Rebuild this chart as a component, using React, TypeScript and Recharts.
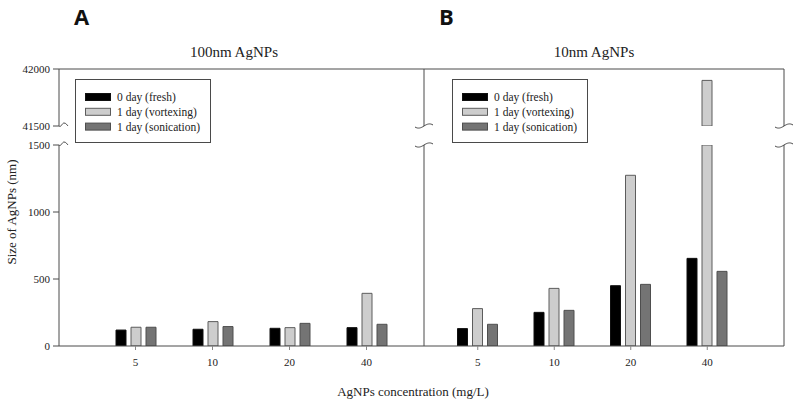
import { BarChart, Bar, XAxis, YAxis, Legend } from "recharts";

const concentrations = ["5", "10", "20", "40"];

// 100nm AgNPs (panel A)
const fresh100 = [119, 125, 132, 137];
const vortex100 = [140, 182, 137, 393];
const sonic100 = [140, 145, 169, 162];

// 10nm AgNPs (panel B)
const fresh10 = [130, 251, 450, 654];
const vortex10 = [279, 430, 1274, 41900];
const sonic10 = [162, 266, 460, 557];

const seriesNames = ["0 day (fresh)", "1 day (vortexing)", "1 day (sonication)"];
const seriesKeys = ["fresh", "vortex", "sonic"];
const seriesFills = ["#000000", "#cdcdcd", "#747474"];
const seriesStrokes = ["#111111", "#5c5c5c", "#4e4e4e"];

const lowerTicks = [0, 500, 1000, 1500];
const upperTicks = [41500, 42000];
const lowerDomain = [0, 1500];
const upperDomain = [41500, 42000];

const W = 800;
const H = 405;
const AXIS = "#4a4a4a";
const SERIF = '"Liberation Serif", "Times New Roman", serif';
const TXT = "#222";

const buildRows = (fresh: number[], vortex: number[], sonic: number[], upper: boolean) =>
  concentrations.map((conc, i) => {
    const cut = (v: number) => (upper ? (v > upperDomain[0] ? v : null) : Math.min(v, lowerDomain[1]));
    return { conc, fresh: cut(fresh[i]), vortex: cut(vortex[i]), sonic: cut(sonic[i]) };
  });

const isBreak = (v: number) => v === lowerDomain[1] || v === upperDomain[0];

// squiggle drawn where the y axis is broken
const squiggle = (x: number, y: number, both: boolean) => {
  const d = both
    ? `M${x - 9},${y + 1} C${x - 6},${y + 3} ${x - 3},${y + 2} ${x},${y} C${x + 3},${y - 2} ${x + 6},${y - 3} ${x + 9},${y - 1}`
    : `M${x},${y} C${x + 2},${y + 2} ${x + 3},${y - 3} ${x + 5},${y - 3} C${x + 7},${y - 3} ${x + 8},${y - 1} ${x + 9},${y}`;
  return <path d={d} fill="none" stroke={AXIS} strokeWidth={1} />;
};

const LabelTick = (props: any) => {
  const { x, y, payload } = props;
  const axisX = x + 9;
  return (
    <g>
      <text x={x} y={y} dy="0.35em" textAnchor="end" fontFamily={SERIF} fontSize={11} fill={TXT}>
        {payload.value}
      </text>
      {isBreak(payload.value) && squiggle(axisX, y, false)}
    </g>
  );
};

const BorderTick = (props: any) => {
  const { x, y, payload } = props;
  return <g>{isBreak(payload.value) && squiggle(x, y, true)}</g>;
};

const LegendBox = () => (
  <svg width={136} height={64} style={{ display: "block" }}>
    <rect x={0.5} y={0.5} width={135} height={63} fill="#fff" stroke={AXIS} />
    {seriesNames.map((name, i) => (
      <g key={name}>
        <rect x={10.5} y={14.5 + i * 14.8} width={25} height={7} fill={seriesFills[i]} stroke={seriesStrokes[i]} />
        <text x={42} y={18 + i * 14.8} dy="0.35em" fontFamily={SERIF} fontSize={11.5} fill={TXT}>
          {name}
        </text>
      </g>
    ))}
  </svg>
);

interface PanelProps {
  fresh: number[];
  vortex: number[];
  sonic: number[];
  plotLeft: number;
  plotRight: number;
  padLeft: number;
  padRight: number;
  showLabels: boolean;
  legendLeft: number;
}

const Panel = ({ fresh, vortex, sonic, plotLeft, plotRight, padLeft, padRight, showLabels, legendLeft }: PanelProps) => {
  const upperRows = buildRows(fresh, vortex, sonic, true);
  const lowerRows = buildRows(fresh, vortex, sonic, false);
  const pad = { left: padLeft, right: padRight };
  // axes need a size of at least 1px to be drawn
  const side = { left: plotLeft - 1, right: showLabels ? W - plotRight : W - plotRight - 1 };
  const bars = seriesKeys.map((k, i) => (
    <Bar key={k} dataKey={k} name={seriesNames[i]} fill={seriesFills[i]} stroke={seriesStrokes[i]} isAnimationActive={false} />
  ));
  const breakTick = (domain: number[]) => [domain[0] === 0 ? domain[1] : domain[0]];
  const leftAxis = (domain: number[], ticks: number[]) =>
    showLabels ? (
      <YAxis domain={domain} ticks={ticks} allowDataOverflow width={1} tickSize={6} tickMargin={3}
        axisLine={{ stroke: AXIS }} tickLine={{ stroke: AXIS }} tick={<LabelTick />} interval={0} />
    ) : (
      <YAxis domain={domain} ticks={breakTick(domain)} allowDataOverflow width={1} interval={0}
        tickSize={0} tickMargin={0} axisLine={{ stroke: AXIS }} tickLine={false} tick={<BorderTick />} />
    );
  const rightAxis = (domain: number[]) =>
    showLabels ? null : (
      <YAxis yAxisId="r" orientation="right" domain={domain} ticks={breakTick(domain)} interval={0}
        allowDataOverflow width={1} tickSize={0} tickMargin={0} axisLine={{ stroke: AXIS }} tickLine={false}
        tick={<BorderTick />} />
    );

  return (
    <>
      <div style={{ position: "absolute", left: 0, top: 0 }}>
        <BarChart width={W} height={H} data={upperRows} barSize={10} barGap={5}
          margin={{ top: 68, bottom: H - 126, ...side }}>
          <XAxis dataKey="conc" hide height={1} padding={pad} />
          <XAxis xAxisId="top" dataKey="conc" orientation="top" height={1} padding={pad} tick={false} tickLine={false}
            axisLine={{ stroke: AXIS }} />
          {leftAxis(upperDomain, upperTicks)}
          {rightAxis(upperDomain)}
          {bars}
          <Legend content={<LegendBox />} layout="vertical" align="center" verticalAlign="middle"
            wrapperStyle={{ left: legendLeft, top: 79, width: 136, height: 64 }} />
        </BarChart>
      </div>
      <div style={{ position: "absolute", left: 0, top: 0 }}>
        <BarChart width={W} height={H} data={lowerRows} barSize={10} barGap={5}
          margin={{ top: 145, bottom: H - 347, ...side }}>
          <XAxis dataKey="conc" height={1} padding={pad} tickSize={4} tickMargin={8} interval={0}
            axisLine={{ stroke: AXIS }} tickLine={{ stroke: "#888" }}
            tick={{ fontFamily: SERIF, fontSize: 11, fill: TXT }} />
          {leftAxis(lowerDomain, lowerTicks)}
          {rightAxis(lowerDomain)}
          {bars}
        </BarChart>
      </div>
    </>
  );
};

export default function App() {
  return (
    <div style={{ position: "absolute", left: 0, top: 0, width: W, height: H, background: "#fff", overflow: "hidden" }}>
      <Panel fresh={fresh100} vortex={vortex100} sonic={sonic100} plotLeft={59} plotRight={424}
        padLeft={38} padRight={19} showLabels legendLeft={75} />
      <Panel fresh={fresh10} vortex={vortex10} sonic={sonic10} plotLeft={424} plotRight={784}
        padLeft={15.5} padRight={38.5} showLabels={false} legendLeft={452} />
      <svg width={W} height={H} style={{ position: "absolute", left: 0, top: 0, pointerEvents: "none" }}>
        <text x={74} y={25} fontFamily='"Open Sans", "Liberation Sans", sans-serif' fontWeight={700} fontSize={22} fill="#111">A</text>
        <text x={439} y={25} fontFamily='"Open Sans", "Liberation Sans", sans-serif' fontWeight={700} fontSize={22} fill="#111">B</text>
        <text x={234} y={57} textAnchor="middle" fontFamily={SERIF} fontSize={15} fill={TXT}>100nm AgNPs</text>
        <text x={594} y={57} textAnchor="middle" fontFamily={SERIF} fontSize={15} fill={TXT}>10nm AgNPs</text>
        <text x={413} y={396} textAnchor="middle" fontFamily={SERIF} fontSize={13} fill={TXT}>AgNPs concentration (mg/L)</text>
        <text transform="translate(16,212) rotate(-90)" textAnchor="middle" fontFamily={SERIF} fontSize={13} fill={TXT}>
          Size of AgNPs (nm)
        </text>
      </svg>
    </div>
  );
}
